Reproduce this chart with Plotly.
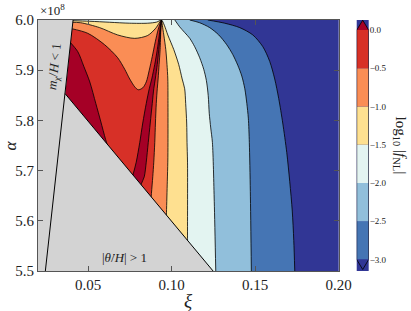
import plotly.graph_objects as go

# ---------------- data (xi, alpha in units of 1e8) ----------------
xi_min, xi_max = 0.02, 0.20
alpha_min, alpha_max = 5.5, 6.0
xi_tick_vals = [0.05, 0.10, 0.15, 0.20]
xi_tick_text = ["0.05", "0.10", "0.15", "0.20"]
alpha_tick_vals = [5.5, 5.6, 5.7, 5.8, 5.9, 6.0]
alpha_tick_text = ["5.5", "5.6", "5.7", "5.8", "5.9", "6.0"]

levels = [-3.0, -2.5, -2.0, -1.5, -1.0, -0.5, 0.0]
level_text = ["\u22123.0", "\u22122.5", "\u22122.0", "\u22121.5", "\u22121.0", "\u22120.5", "0.0"]
band_colors = ["#313695", "#4575b4", "#91bfdb", "#e3f4f1", "#fee090", "#fa8d55", "#d73027", "#a50026"]

# contour log10|fNL| = -3.0
c30_xi = [0.1216, 0.1318, 0.1408, 0.1486, 0.1546, 0.1587, 0.1617, 0.1641, 0.1665, 0.1689, 0.1707,
          0.1722, 0.1731, 0.1737]
c30_al = [6.000, 5.9936, 5.9848, 5.9702, 5.9468, 5.9176, 5.8825, 5.8435, 5.7948, 5.7363, 5.6778,
          5.6194, 5.5609, 5.500]
# contour -2.5
c25_xi = [0.1108, 0.1168, 0.1228, 0.1282, 0.1330, 0.1366, 0.1396, 0.1420, 0.1438, 0.1450, 0.1459,
          0.1465, 0.1471, 0.1477]
c25_al = [6.000, 5.9945, 5.9848, 5.9702, 5.9507, 5.9312, 5.9098, 5.8883, 5.8630, 5.8338, 5.8045,
          5.7558, 5.6583, 5.500]
# contour -2.0
c20_xi = [0.1019, 0.1048, 0.1078, 0.1108, 0.1138, 0.1168, 0.1192, 0.1208, 0.1219, 0.1225, 0.1234,
          0.1244, 0.1255, 0.1264]
c20_al = [6.000, 5.9864, 5.9751, 5.9637, 5.9468, 5.9248, 5.9020, 5.8792, 5.8493, 5.8143, 5.7850,
          5.7558, 5.6389, 5.500]
# contour -1.5
c15_xi = [0.0395, 0.0510, 0.0629, 0.0749, 0.0857, 0.0911, 0.0939, 0.0956, 0.0977, 0.1013, 0.1042,
          0.1063, 0.1078, 0.1084, 0.1090, 0.1092, 0.1095, 0.1095, 0.1096]
c15_al = [5.9988, 5.9975, 5.9955, 5.9936, 5.9936, 5.9959, 6.000, 5.9897, 5.9702, 5.9409, 5.9117,
          5.8825, 5.8630, 5.8338, 5.7948, 5.7558, 5.7168, 5.5648, 5.500]
# contour -1.0
c10_xi = [0.0395, 0.0456, 0.0569, 0.0677, 0.0779, 0.0857, 0.0905, 0.0939, 0.0944, 0.0953, 0.0965,
          0.0972, 0.0977, 0.0978, 0.0978, 0.0977, 0.0974, 0.0969, 0.0965]
c10_al = [5.9955, 5.9945, 5.9848, 5.9702, 5.9634, 5.9692, 5.9838, 6.000, 5.9897, 5.9702, 5.9409,
          5.9117, 5.8825, 5.8338, 5.7558, 5.7168, 5.6778, 5.6160, 5.5609]
# contour -0.5 (dip on the left, then the branch going down on the right)
c05_xi = [0.0395, 0.0498, 0.0599, 0.0677, 0.0719, 0.0749, 0.0779, 0.0800, 0.0827, 0.0848, 0.0866,
          0.0884, 0.0902, 0.0920, 0.0939, 0.0935, 0.0931, 0.0925, 0.0919, 0.0914, 0.0908, 0.0903,
          0.0899, 0.0893, 0.0887, 0.0879, 0.0869]
c05_al = [5.9832, 5.9735, 5.9507, 5.9248, 5.9020, 5.8825, 5.8669, 5.8610, 5.8649, 5.8766, 5.9000,
          5.9273, 5.9565, 5.9819, 6.000, 5.9799, 5.9409, 5.9117, 5.8825, 5.8630, 5.8338, 5.7948,
          5.7558, 5.7168, 5.6876, 5.6544, 5.6096]
# contour 0.0 : large left region
c00a_xi = [0.0390, 0.0438, 0.0474, 0.0510, 0.0546, 0.0575, 0.0605, 0.0629]
c00a_al = [5.9565, 5.9370, 5.9078, 5.8766, 5.8338, 5.7987, 5.7616, 5.7363]
# contour 0.0 : thin sliver (left and right edges, top to bottom)
c00l_xi = [0.0939, 0.0933, 0.0926, 0.0914, 0.0899, 0.0881, 0.0866, 0.0848, 0.0827, 0.0809, 0.0788, 0.0770, 0.0725]
c00l_al = [6.000, 5.9897, 5.9702, 5.9409, 5.9117, 5.8825, 5.8630, 5.8338, 5.7948, 5.7558, 5.7168, 5.6934, 5.6389]
c00r_xi = [0.0939, 0.0936, 0.0932, 0.0923, 0.0914, 0.0902, 0.0893, 0.0884, 0.0872, 0.0860, 0.0848, 0.0836, 0.0819, 0.0791]
c00r_al = [6.000, 5.9897, 5.9702, 5.9409, 5.9117, 5.8825, 5.8630, 5.8338, 5.7948, 5.7558, 5.7168, 5.6876, 5.6739, 5.6389]

# excluded regions
mchi_xi = [0.0410, 0.0244]          # m_chi/H = 1
mchi_al = [6.000, 5.500]
thdot_xi = [0.0363, 0.1248]         # |theta_dot/H| = 1
thdot_al = [5.853, 5.500]
excl_color = "#d3d3d3"

# ---------------- figure ----------------
fig = go.Figure()
SMOOTH = 0.8


def fill(xs, ys, color, xa="x", ya="y", shape="spline"):
    fig.add_trace(go.Scatter(x=xs, y=ys, mode="lines", fill="toself", fillcolor=color,
                             line=dict(width=0, color=color, shape=shape, smoothing=SMOOTH),
                             hoverinfo="skip", showlegend=False, xaxis=xa, yaxis=ya))


def line(xs, ys, color="black", width=0.8, xa="x", ya="y", shape="spline"):
    fig.add_trace(go.Scatter(x=xs, y=ys, mode="lines",
                             line=dict(width=width, color=color, shape=shape, smoothing=SMOOTH),
                             hoverinfo="skip", showlegend=False, xaxis=xa, yaxis=ya))


def band_region(cx, ca, color):
    """Region on the low-xi side of a contour; closed through points outside the view."""
    k = 3.0
    pre = (cx[0] + (cx[0] - cx[1]) * k, ca[0] + (ca[0] - ca[1]) * k)
    suf = (cx[-1] + (cx[-1] - cx[-2]) * k, ca[-1] + (ca[-1] - ca[-2]) * k)
    far_left = xi_min - 0.05
    xs = [pre[0]] + list(cx) + [suf[0], far_left, far_left]
    ys = [pre[1]] + list(ca) + [suf[1], suf[1], pre[1]]
    fill(xs, ys, color)


# bands (z > level), nested
for cx, ca, col in [(c30_xi, c30_al, band_colors[1]),
                    (c25_xi, c25_al, band_colors[2]),
                    (c20_xi, c20_al, band_colors[3]),
                    (c15_xi, c15_al, band_colors[4]),
                    (c10_xi, c10_al, band_colors[5]),
                    (c05_xi, c05_al, band_colors[6]),
                    (c00a_xi, c00a_al, band_colors[7])]:
    band_region(cx, ca, col)
fill(c00l_xi + c00r_xi[::-1], c00l_al + c00r_al[::-1], band_colors[7])

# contour lines
for cx, ca in [(c30_xi, c30_al), (c25_xi, c25_al), (c20_xi, c20_al), (c15_xi, c15_al),
               (c10_xi, c10_al), (c05_xi, c05_al), (c00a_xi, c00a_al),
               (c00l_xi, c00l_al), (c00r_xi, c00r_al)]:
    line(cx, ca)

# excluded (grey) region
fill([xi_min, mchi_xi[0], thdot_xi[0], thdot_xi[1], xi_min],
     [alpha_max, mchi_al[0], thdot_al[0], thdot_al[1], alpha_min], excl_color, shape="linear")
line(mchi_xi, mchi_al, width=1, shape="linear")
line(thdot_xi, thdot_al, width=1, shape="linear")

# colour bar built on its own axes
cb_ext = 0.13
for i in range(len(levels) - 1):
    fill([0, 1, 1, 0, 0], [levels[i], levels[i], levels[i + 1], levels[i + 1], levels[i]],
         band_colors[i + 1], xa="x2", ya="y2", shape="linear")
fill([0, 1, 0.5, 0], [levels[-1], levels[-1], levels[-1] + cb_ext, levels[-1]], band_colors[-1],
     xa="x2", ya="y2", shape="linear")
fill([0, 1, 0.5, 0], [levels[0], levels[0], levels[0] - cb_ext, levels[0]], band_colors[0],
     xa="x2", ya="y2", shape="linear")
line([0, 0.5, 1, 1, 0.5, 0, 0],
     [levels[-1], levels[-1] + cb_ext, levels[-1], levels[0], levels[0] - cb_ext, levels[0], levels[-1]],
     color="black", width=0.8, xa="x2", ya="y2", shape="linear")

serif = "Liberation Serif"
axis_common = dict(showgrid=False, zeroline=False, showline=True, linecolor="#555",
                   linewidth=1, mirror="ticks", ticks="inside", ticklen=5, tickcolor="#555",
                   tickfont=dict(family=serif, size=15, color="#222"))

fig.update_layout(
    width=411, height=311,
    margin=dict(l=38, r=30, t=15, b=40),
    paper_bgcolor="white", plot_bgcolor=band_colors[0],
    xaxis=dict(domain=[0, 0.8767], range=[xi_min, xi_max], tickvals=xi_tick_vals,
               ticktext=xi_tick_text, **axis_common),
    yaxis=dict(domain=[0, 1], range=[alpha_min, alpha_max], tickvals=alpha_tick_vals,
               ticktext=alpha_tick_text, **axis_common),
    xaxis2=dict(domain=[0.9292, 0.9641], range=[0, 1], visible=False, anchor="y2"),
    yaxis2=dict(domain=[0, 1], range=[-3.15, 0.132], anchor="x2", side="right",
                tickvals=levels, ticktext=level_text, showgrid=False, zeroline=False,
                showline=False, ticks="", tickfont=dict(family=serif, size=9, color="#222")),
    annotations=[
        dict(text="\u00d710<sup>8</sup>", xref="paper", yref="paper", x=0.0, y=1.04,
             xanchor="left", yanchor="middle", showarrow=False,
             font=dict(family=serif, size=13, color="#222")),
        dict(text="<i>\u03be</i>", xref="paper", yref="paper", x=0.438, y=-0.117,
             xanchor="center", yanchor="middle", showarrow=False,
             font=dict(family=serif, size=19, color="#222")),
        dict(text="<i>\u03b1</i>", xref="paper", yref="paper", x=-0.079, y=0.5,
             xanchor="center", yanchor="middle", showarrow=False, textangle=-90,
             font=dict(family=serif, size=17, color="#222")),
        dict(text="log<sub>10</sub> |<i>f</i><sub>NL</sub>|", xref="paper", yref="paper",
             x=1.058, y=0.5, xanchor="center", yanchor="middle", showarrow=False, textangle=90,
             font=dict(family=serif, size=15, color="#222")),
        dict(text="<i>m</i><sub>\u03c7</sub>/<i>H</i> &lt; 1", xref="x", yref="y",
             x=0.0300, y=5.9078, showarrow=False, textangle=-84,
             font=dict(family=serif, size=13, color="#222")),
        dict(text="|<i>\u03b8\u0307</i>/<i>H</i>| &gt; 1", xref="x", yref="y",
             x=0.0719, y=5.5278, showarrow=False,
             font=dict(family=serif, size=13, color="#222")),
    ],
)

fig.write_html("out.html", config={"displayModeBar": False},
               post_script="document.body.style.margin='0px';")
